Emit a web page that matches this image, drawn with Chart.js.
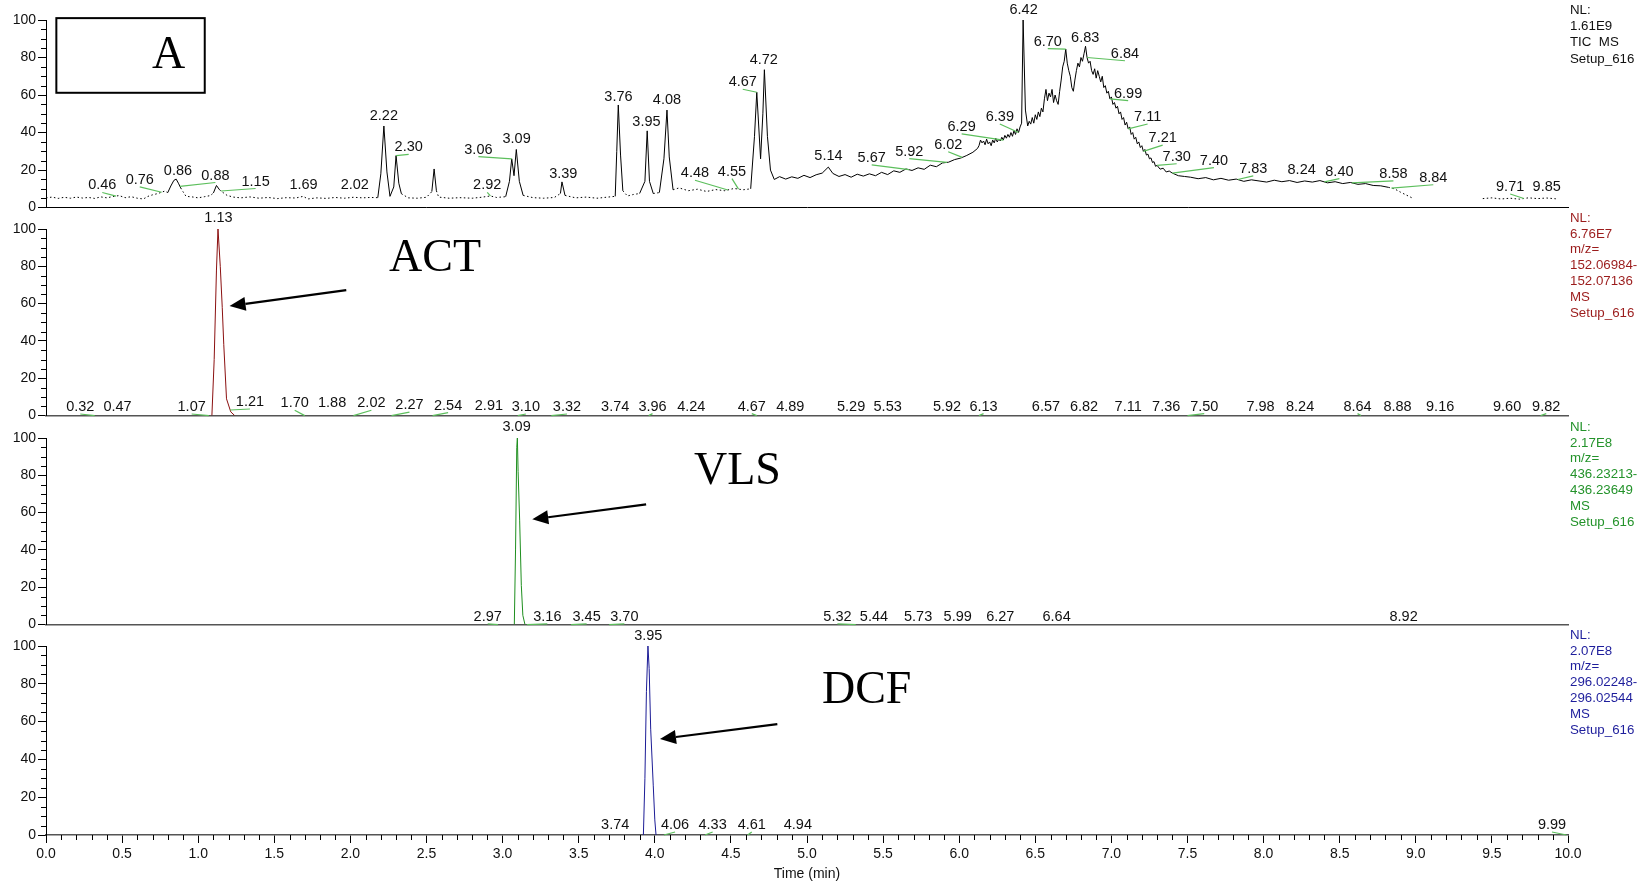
<!DOCTYPE html>
<html>
<head>
<meta charset="utf-8">
<title>Chromatograms</title>
<script src="https://cdn.jsdelivr.net/npm/chart.js@4.4.1/dist/chart.umd.min.js"></script>
<style>
  html, body { margin: 0; padding: 0; background: #fff; }
  #wrap { position: relative; width: 1639px; height: 885px; overflow: hidden; background: #fff; }
  #wrap canvas { position: absolute; left: 0; }
</style>
</head>
<body>
<div id="wrap">
  <canvas id="tic" width="1639" height="218" style="top:0px"></canvas>
  <canvas id="act" width="1639" height="217" style="top:209px"></canvas>
  <canvas id="vls" width="1639" height="217" style="top:418px"></canvas>
  <canvas id="dcf" width="1639" height="259" style="top:626px"></canvas>
</div>
<script>
// ---- data: [time (min), relative abundance (%)] ----
var ticPoints = [
  [0.00,5.2],[0.04,5.6],[0.08,4.9],[0.12,5.5],[0.16,5.0],[0.20,5.6],[0.24,5.1],[0.28,5.4],[0.32,4.9],
  [0.36,5.7],[0.40,5.2],[0.44,5.9],[0.48,6.4],[0.52,5.3],[0.56,5.8],[0.60,5.0],[0.64,4.6],[0.67,6.0],
  [0.70,6.8],[0.73,7.4],[0.76,8.2],[0.78,8.8],[0.80,8.0],[0.82,11.5],[0.84,14.5],[0.855,15.2],[0.87,13.0],
  [0.885,10.5],[0.90,8.5],[0.92,6.0],[0.96,5.7],[1.00,5.2],[1.04,5.8],[1.08,6.4],[1.10,7.8],[1.12,11.8],
  [1.14,9.5],[1.16,8.2],[1.19,6.5],[1.23,5.6],[1.28,5.2],[1.34,5.7],[1.40,5.0],[1.46,5.4],[1.52,4.8],
  [1.58,5.3],[1.64,5.1],[1.69,6.0],[1.72,4.6],[1.78,5.2],[1.84,4.9],[1.90,5.4],[1.96,5.0],[2.02,5.5],
  [2.08,5.2],[2.13,5.4],[2.18,5.3],[2.20,18],[2.22,43.5],[2.24,19],[2.26,6.0],[2.285,11],[2.30,27.7],
  [2.318,13],[2.335,7.4],[2.38,5.2],[2.44,5.0],[2.50,5.5],[2.535,8.5],[2.55,20.6],[2.565,9],[2.58,5.6],
  [2.65,5.0],[2.72,5.3],[2.80,5.0],[2.86,5.5],[2.92,6.2],[2.96,5.4],[3.02,5.8],[3.045,14],[3.06,26],
  [3.075,17],[3.09,31],[3.11,14],[3.135,6.5],[3.20,5.3],[3.27,5.0],[3.34,5.4],[3.38,7.5],[3.39,13.7],
  [3.41,6.5],[3.48,5.2],[3.55,5.6],[3.62,5.0],[3.68,5.5],[3.74,6.0],[3.75,30],[3.76,54.7],[3.775,28],
  [3.79,9],[3.82,6.2],[3.86,7.0],[3.90,7.5],[3.935,14],[3.95,40.9],[3.965,14],[3.99,7.5],[4.03,8.0],
  [4.06,26],[4.08,52],[4.095,27],[4.12,9.5],[4.16,10.5],[4.22,9.0],[4.28,9.8],[4.34,8.6],[4.40,9.6],
  [4.46,9.0],[4.52,10.2],[4.58,9.5],[4.63,10.0],[4.655,38],[4.67,61.5],[4.695,26],[4.71,50],[4.72,73.5],
  [4.74,38],[4.76,20],[4.785,15],[4.82,16.5],[4.86,15.2],[4.90,16.4],[4.94,15.6],[4.98,17.2],[5.02,16.0],
  [5.06,17.5],[5.10,18.4],[5.14,21.6],[5.17,18.2],[5.21,16.6],[5.25,17.6],[5.29,16.2],[5.33,17.8],
  [5.37,16.8],[5.41,18.0],[5.45,17.0],[5.49,18.8],[5.53,17.6],[5.57,19.6],[5.61,18.8],[5.65,20.6],
  [5.69,19.8],[5.73,21.2],[5.77,20.4],[5.81,22.6],[5.85,21.8],[5.89,23.8],[5.93,24.2],[5.97,25.6],
  [6.01,26.4],[6.05,27.8],[6.09,29.5],[6.12,31.5],[6.13,33],[6.14,36],[6.15,34.5],[6.16,35.5],[6.17,33.5],
  [6.18,36.5],[6.19,34],[6.20,35],[6.21,33],[6.22,36],[6.23,34.5],[6.24,37],[6.25,35],[6.26,36.5],
  [6.27,35.5],[6.28,37.5],[6.29,36],[6.30,38.5],[6.31,37],[6.32,39],[6.33,37.5],[6.34,40],[6.35,38],
  [6.36,41],[6.37,39],[6.38,42],[6.39,40],[6.40,43],[6.41,45],[6.42,100],[6.435,52],[6.45,43.5],
  [6.46,46],[6.47,44.5],[6.48,48],[6.49,45],[6.50,49.5],[6.51,47],[6.52,51],[6.53,48.5],[6.54,53],
  [6.55,51],[6.56,58],[6.57,63],[6.58,57],[6.59,61],[6.60,59],[6.61,63],[6.62,56],[6.63,60],[6.64,57],
  [6.65,55],[6.66,62],[6.67,68],[6.68,75],[6.69,78],[6.70,84.5],[6.71,77],[6.72,73],[6.73,70],[6.74,64],
  [6.75,62],[6.76,68],[6.77,73],[6.78,77],[6.79,75],[6.80,80],[6.81,78],[6.82,82],[6.83,86],[6.84,80],
  [6.85,77],[6.86,78],[6.87,73],[6.88,71],[6.89,74],[6.90,69],[6.91,73],[6.92,70],[6.93,67],[6.94,70],
  [6.95,64],[6.96,65],[6.97,61],[6.98,62],[6.99,58],[7.00,59],[7.01,55],[7.02,56],[7.03,53],[7.04,54],
  [7.05,50],[7.06,51],[7.07,47],[7.08,48],[7.09,44],[7.10,45.5],[7.11,42],[7.12,43],[7.13,39],[7.14,40],
  [7.15,36.5],[7.16,37.5],[7.17,34],[7.18,35],[7.19,32],[7.20,33],[7.21,30],[7.22,31],[7.23,28],
  [7.24,28.5],[7.25,26],[7.26,26.5],[7.27,24],[7.28,24.5],[7.29,22],[7.30,22.5],[7.32,20.5],[7.34,21],
  [7.36,19],[7.38,19.5],[7.40,18.4],[7.44,17.0],[7.48,16.6],[7.52,16.2],[7.57,15.4],[7.62,16.0],
  [7.67,14.8],[7.72,15.6],[7.77,14.6],[7.82,15.2],[7.87,14.0],[7.92,14.8],[7.97,14.2],[8.02,13.6],
  [8.07,14.6],[8.12,13.8],[8.17,14.4],[8.22,13.4],[8.27,14.2],[8.32,13.6],[8.37,14.4],[8.42,13.2],
  [8.47,13.8],[8.52,12.8],[8.57,13.4],[8.62,12.4],[8.67,12.8],[8.72,11.8],[8.77,11.6],[8.82,10.8],
  [8.86,10.0],[8.90,8.2],[8.94,6.6],[8.98,5.0],[9.20,null],[9.44,4.8],[9.50,5.2],[9.56,4.6],[9.62,5.0],
  [9.68,4.5],[9.74,5.2],[9.80,4.8],[9.86,5.1],[9.92,4.7]
];
var actPoints = [[0,0],[1.09,0],[1.105,30],[1.12,78],[1.13,100],[1.145,80],[1.158,58],[1.168,38],
  [1.186,9],[1.214,2],[1.24,0],[10,0]];
var vlsPoints = [[0,0],[3.077,0],[3.085,40],[3.093,95],[3.097,100],[3.102,82],[3.112,56],[3.123,21],
  [3.133,5],[3.147,0],[10,0]];
var dcfPoints = [[0,0],[3.925,0],[3.935,30],[3.945,76],[3.955,100],[3.963,88],[3.973,56],[3.99,26],
  [4.0,8],[4.008,0],[10,0]];

// retention-time tags printed on each trace
var ticPeaks = ['0.46','0.76','0.86','0.88','1.15','1.69','2.02','2.22','2.30','2.92','3.06','3.09','3.39',
  '3.76','3.95','4.08','4.48','4.55','4.67','4.72','5.14','5.67','5.92','6.02','6.29','6.39','6.42','6.70',
  '6.83','6.84','6.99','7.11','7.21','7.30','7.40','7.83','8.24','8.40','8.58','8.84','9.71','9.85'];
var actPeaks = ['0.32','0.47','1.07','1.13','1.21','1.70','1.88','2.02','2.27','2.54','2.91','3.10','3.32',
  '3.74','3.96','4.24','4.67','4.89','5.29','5.53','5.92','6.13','6.57','6.82','7.11','7.36','7.50','7.98',
  '8.24','8.64','8.88','9.16','9.60','9.82'];
var vlsPeaks = ['2.97','3.09','3.16','3.45','3.70','5.32','5.44','5.73','5.99','6.27','6.64','8.92'];
var dcfPeaks = ['3.74','3.95','4.06','4.33','4.61','4.94','9.99'];

// where each tag sits (time, %)
var ticTagX = [0.37,0.616,0.867,1.113,1.377,1.692,2.029,2.22,2.383,2.899,2.841,3.092,3.399,
  3.761,3.945,4.08,4.264,4.507,4.578,4.716,5.141,5.425,5.672,5.928,6.016,6.267,6.423,6.582,
  6.828,7.089,7.11,7.238,7.337,7.429,7.674,7.932,8.25,8.498,8.853,9.115,9.62,9.86];
var ticTagY = [11.8,14.8,19.7,17.1,13.9,12.2,12.2,48.8,32.1,11.8,30.9,36.5,18,
  59.1,45.7,57.1,18.3,19.2,66.8,78.8,27.3,26.5,29.8,33.5,43,48.3,105.3,88.5,
  90.3,82,60.8,48.3,37,27.1,25,20.6,20.1,19.2,18,15.9,11,11];
var actTagX = [0.225,0.47,0.957,1.133,1.34,1.634,1.88,2.138,2.388,2.642,2.91,3.153,3.423,
  3.74,3.985,4.24,4.637,4.89,5.29,5.53,5.92,6.16,6.57,6.82,7.11,7.36,7.61,7.98,
  8.24,8.617,8.88,9.16,9.60,9.857];
var actTagY = [4.6,4.6,4.6,106,7.3,6.6,6.6,6.6,5.6,5.3,5,4.6,4.6,
  4.8,4.8,4.8,4.8,4.8,4.8,4.8,4.8,4.8,4.8,4.8,4.8,4.8,4.8,4.8,
  4.8,4.8,4.8,4.8,4.8,4.8];
var vlsTagX = [2.902,3.092,3.294,3.552,3.80,5.20,5.44,5.73,5.99,6.27,6.64,8.92];
var vlsTagY = [4.1,105.7,4.1,4.1,4.1,4.1,4.1,4.1,4.1,4.1,4.1,4.1];
var dcfTagX = [3.74,3.957,4.133,4.38,4.637,4.94,9.895];
var dcfTagY = [5.3,105.3,5.3,5.3,5.3,5.3,5.3];

var ticInfo = ['NL:', '1.61E9', 'TIC  MS', 'Setup_616'];
var actInfo = ['NL:', '6.76E7', 'm/z=', '152.06984-', '152.07136', 'MS', 'Setup_616'];
var vlsInfo = ['NL:', '2.17E8', 'm/z=', '436.23213-', '436.23649', 'MS', 'Setup_616'];
var dcfInfo = ['NL:', '2.07E8', 'm/z=', '296.02248-', '296.02544', 'MS', 'Setup_616'];

Chart.defaults.font.family = '"Liberation Sans", Arial, sans-serif';
Chart.defaults.color = '#111';

function traceAt(pts, t) {
  for (var i = 1; i < pts.length; i++) {
    if (pts[i][0] >= t) {
      var a = pts[i - 1][1], b = pts[i][1];
      if (a == null) return b;
      if (b == null) return a;
      return a + (t - pts[i - 1][0]) / (pts[i][0] - pts[i - 1][0]) * (b - a);
    }
  }
  return pts[pts.length - 1][1];
}

function drawArrow(ctx, x0, y0, x1, y1) {
  var ang = Math.atan2(y1 - y0, x1 - x0);
  var L = 16, W = 7;
  var bx = x1 - L * Math.cos(ang), by = y1 - L * Math.sin(ang);
  ctx.strokeStyle = '#000';
  ctx.fillStyle = '#000';
  ctx.lineWidth = 2.2;
  ctx.beginPath(); ctx.moveTo(x0, y0); ctx.lineTo(bx, by); ctx.stroke();
  ctx.beginPath();
  ctx.moveTo(x1, y1);
  ctx.lineTo(bx + W * Math.sin(ang), by - W * Math.cos(ang));
  ctx.lineTo(bx - W * Math.sin(ang), by + W * Math.cos(ang));
  ctx.closePath(); ctx.fill();
}

var chromPlugin = {
  id: 'chrom',
  afterDraw: function (chart, args, o) {
    var ctx = chart.ctx, a = chart.chartArea, x = chart.scales.x, y = chart.scales.y;
    ctx.save();

    // minor ticks
    ctx.strokeStyle = '#000';
    ctx.lineWidth = 1;
    ctx.beginPath();
    for (var v = 5; v < 100; v += 5) {
      if (v % 20 === 0) continue;
      var py = Math.round(y.getPixelForValue(v)) + 0.5;
      ctx.moveTo(a.left - 5, py); ctx.lineTo(a.left, py);
    }
    if (o.xMinor) {
      for (var i = 1; i < 100; i++) {
        if (i % 5 === 0) continue;
        var px = Math.round(x.getPixelForValue(i / 10)) + 0.5;
        ctx.moveTo(px, a.bottom); ctx.lineTo(px, a.bottom + 5);
      }
    }
    ctx.stroke();

    // retention time tags with green leaders
    ctx.font = '14.5px "Liberation Sans", Arial, sans-serif';
    ctx.textAlign = 'center';
    ctx.textBaseline = 'middle';
    o.peaks.forEach(function (lab, k) {
      var rt = parseFloat(lab);
      var lx = x.getPixelForValue(o.tagX[k]), ly = y.getPixelForValue(o.tagY[k]);
      if (Math.abs(o.tagX[k] - rt) > 0.015) {
        ctx.strokeStyle = '#5cbf5c';
        ctx.lineWidth = 1.2;
        ctx.beginPath();
        ctx.moveTo(lx, ly + 7);
        ctx.lineTo(x.getPixelForValue(rt), y.getPixelForValue(traceAt(o.pts, rt)));
        ctx.stroke();
      }
      ctx.fillStyle = '#111';
      ctx.fillText(lab, lx, ly);
    });

    // NL / filter text on the right
    ctx.font = '13.3px "Liberation Sans", Arial, sans-serif';
    ctx.textAlign = 'left';
    ctx.fillStyle = o.infoColor;
    o.info.forEach(function (s, k) {
      ctx.fillText(s, a.right + 2, a.top + o.infoTop + k * o.infoStep);
    });

    // box, compound name, arrow
    if (o.box) {
      ctx.strokeStyle = '#000';
      ctx.lineWidth = 2;
      var bx0 = x.getPixelForValue(o.box[0]), bx1 = x.getPixelForValue(o.box[1]);
      var by0 = y.getPixelForValue(o.box[3]), by1 = y.getPixelForValue(o.box[2]);
      ctx.strokeRect(bx0, by0, bx1 - bx0, by1 - by0);
    }
    if (o.name) {
      ctx.font = '46px "Liberation Serif", "Times New Roman", serif';
      ctx.textAlign = 'center';
      ctx.fillStyle = '#000';
      ctx.fillText(o.name[0], x.getPixelForValue(o.name[1]), y.getPixelForValue(o.name[2]));
    }
    if (o.arrow) {
      drawArrow(ctx, x.getPixelForValue(o.arrow[0]), y.getPixelForValue(o.arrow[1]),
        x.getPixelForValue(o.arrow[2]), y.getPixelForValue(o.arrow[3]));
    }
    ctx.restore();
  }
};

function makePanel(id, pts, color, bottomAxis, chrom) {
  var xScale = {
    type: 'linear', min: 0, max: 10, z: 1,
    border: { color: bottomAxis === 'top' ? '#000' : '#555', width: bottomAxis === 'top' ? 1 : 1.4 }
  };
  if (bottomAxis === 'ticks') {
    xScale.afterFit = function (s) { s.height = 50; };
    xScale.ticks = { stepSize: 0.5, autoSkip: false, maxRotation: 0, padding: 3, color: '#111',
      font: { size: 14 }, callback: function (v) { return v.toFixed(1); } };
    xScale.grid = { drawOnChartArea: false, drawTicks: true, tickLength: 8, color: '#000' };
    xScale.title = { display: true, text: 'Time (min)', color: '#111', font: { size: 14 },
      padding: { top: 0, bottom: 2 } };
  } else {
    xScale.afterFit = function (s) { s.height = 9; };
    xScale.ticks = { display: false };
    xScale.grid = { display: false };
  }
  chrom.pts = pts;
  return new Chart(document.getElementById(id), {
    type: 'line',
    data: {
      datasets: [{
        data: pts.map(function (p) { return { x: p[0], y: p[1] }; }),
        borderColor: color,
        borderWidth: 1,
        pointRadius: 0,
        tension: 0,
        spanGaps: false,
        segment: {
          // flat zero baseline is hidden under the axis, low TIC baseline is broken
          borderColor: function (c) {
            return (c.p0.parsed.y === 0 && c.p1.parsed.y === 0) ? 'rgba(0,0,0,0)' : undefined;
          },
          borderDash: function (c) {
            return (id === 'tic' && c.p0.parsed.y < 11 && c.p1.parsed.y < 11) ? [1.5, 2.5] : undefined;
          }
        }
      }]
    },
    options: {
      responsive: false,
      animation: false,
      devicePixelRatio: 1,
      layout: { padding: { top: 20, right: 71, left: 0, bottom: 0 } },
      plugins: { legend: { display: false }, tooltip: { enabled: false }, chrom: chrom },
      scales: {
        x: xScale,
        y: {
          min: 0, max: 100,
          afterFit: function (s) { s.width = 46; },
          border: { color: '#000', width: 1 },
          grid: { drawOnChartArea: false, drawTicks: true, tickLength: 8, color: '#000' },
          ticks: { stepSize: 20, padding: 2, color: '#111', font: { size: 14 } }
        }
      }
    },
    plugins: [chromPlugin]
  });
}

makePanel('tic', ticPoints, '#000', 'top', {
  peaks: ticPeaks, tagX: ticTagX, tagY: ticTagY,
  info: ticInfo, infoColor: '#111', infoTop: -10, infoStep: 16.4,
  box: [0.068, 1.043, 61.2, 101], name: ['A', 0.806, 81]
});
makePanel('act', actPoints, '#8b1010', 'line', {
  peaks: actPeaks, tagX: actTagX, tagY: actTagY,
  info: actInfo, infoColor: '#9b1c1c', infoTop: -11, infoStep: 15.9,
  name: ['ACT', 2.556, 84], arrow: [1.973, 67.2, 1.206, 58.7]
});
makePanel('vls', vlsPoints, '#1f8f1f', 'line', {
  peaks: vlsPeaks, tagX: vlsTagX, tagY: vlsTagY,
  info: vlsInfo, infoColor: '#24932b', infoTop: -11, infoStep: 15.9,
  name: ['VLS', 4.543, 82], arrow: [3.943, 64.4, 3.195, 56.4]
});
makePanel('dcf', dcfPoints, '#1c1c96', 'ticks', {
  peaks: dcfPeaks, tagX: dcfTagX, tagY: dcfTagY,
  info: dcfInfo, infoColor: '#1e1e9c', infoTop: -11, infoStep: 15.9, xMinor: true,
  name: ['DCF', 5.392, 76.2], arrow: [4.805, 58.7, 4.034, 50.8]
});
</script>
</body>
</html>
